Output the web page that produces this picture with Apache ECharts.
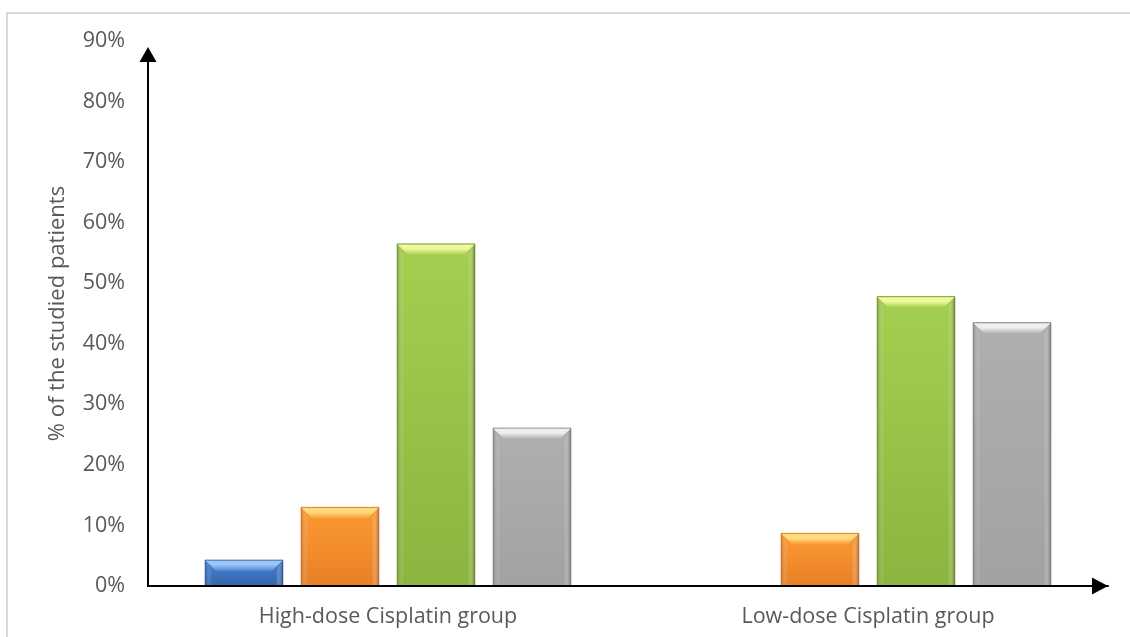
<!DOCTYPE html>
<html>
<head>
<meta charset="utf-8">
<title>Cisplatin dose groups</title>
<script src="https://cdn.jsdelivr.net/npm/echarts/dist/echarts.min.js"></script>
<style>
  html, body { margin: 0; padding: 0; background: #ffffff; }
  #chart { width: 1130px; height: 637px; }
</style>
</head>
<body>
<div id="chart"></div>
<script>
// Dose groups on the x axis
const categories = ['High-dose Cisplatin group', 'Low-dose Cisplatin group'];

// Share of patients (%) per group, one array per coloured bar
const seriesBlue   = [4.3, 0];
const seriesOrange = [13.0, 8.7];
const seriesGreen  = [56.5, 47.8];
const seriesGray   = [26.1, 43.5];

// Value axis range
const yMin = 0;
const yMax = 90;
const yStep = 10;

const FONT = '"Open Sans", "Liberation Sans", sans-serif';
const TEXT = '#595959';
const GRID_LEFT = 148;

// Bevelled-bar colour sets: face top/bottom, highlight, edge
const palettes = [
  { face1: '#4584d2', face2: '#3465aa', hi: '#9cc6f4', edge: '#24508c' },
  { face1: '#fd9a33', face2: '#e88026', hi: '#ffdb80', edge: '#b8641a' },
  { face1: '#a5cf50', face2: '#8db43f', hi: '#eef89c', edge: '#5f7f26' },
  { face1: '#afafaf', face2: '#a2a2a2', hi: '#efefef', edge: '#727272' }
];

function lin(x0, y0, x1, y1, stops) {
  return new echarts.graphic.LinearGradient(x0, y0, x1, y1,
    stops.map(function (s) { return { offset: s[0], color: s[1] }; }));
}

// Draws one bevelled bar in its slot within the category band
function bevelBar(slot) {
  const pal = palettes[slot];
  return function (params, api) {
    const v = api.value(1);
    if (!(v > 0)) return null;
    const band = api.size([1, 0])[0];
    const w = band * 0.1625;
    const step = band * 0.2;
    const top = api.coord([api.value(0), v]);
    const base = api.coord([api.value(0), 0]);
    const cx = top[0] + (slot - 1.5) * step;
    const x = cx - w / 2;
    const y = top[1];
    const h = base[1] - top[1];
    const b = Math.min(11, h / 2, w / 2);
    const s = 7;
    return {
      type: 'group',
      children: [
        {
          type: 'rect',
          shape: { x: x, y: y, width: w, height: h },
          style: {
            fill: lin(0, 0, 0, 1, [[0, pal.face1], [1, pal.face2]]),
            shadowBlur: 7,
            shadowColor: 'rgba(0,0,0,0.35)',
            shadowOffsetX: 3,
            shadowOffsetY: 1
          }
        },
        {
          type: 'polygon',
          shape: { points: [[x, y], [x + s, y + b], [x + s, y + h], [x, y + h]] },
          style: { fill: lin(0, 0, 1, 0, [[0, pal.edge], [1, 'rgba(255,255,255,0)']]), opacity: 0.55 }
        },
        {
          type: 'polygon',
          shape: { points: [[x + w, y], [x + w - s, y + b], [x + w - s, y + h], [x + w, y + h]] },
          style: { fill: lin(0, 0, 1, 0, [[0, 'rgba(255,255,255,0)'], [1, pal.edge]]), opacity: 0.9 }
        },
        {
          type: 'polygon',
          shape: { points: [[x, y], [x + w, y], [x + w - b, y + b], [x + b, y + b]] },
          style: { fill: lin(0, 0, 0, 1, [[0, pal.face1], [0.12, pal.hi], [0.45, pal.hi], [1, pal.face1]]) }
        },
        {
          type: 'rect',
          shape: { x: x, y: y, width: w, height: h },
          style: { fill: 'none', stroke: pal.edge, lineWidth: 1, opacity: 0.5 }
        }
      ]
    };
  };
}

function toData(values) {
  return values.map(function (v, i) { return [i, v]; });
}

const chart = echarts.init(document.getElementById('chart'), null, { renderer: 'canvas' });

const valueSets = [seriesBlue, seriesOrange, seriesGreen, seriesGray];
const seriesNames = ['Series 1', 'Series 2', 'Series 3', 'Series 4'];

chart.setOption({
  backgroundColor: '#ffffff',
  animation: false,
  grid: { left: GRID_LEFT, right: 22, top: 41, bottom: 51, containLabel: false },
  xAxis: {
    type: 'category',
    data: categories,
    boundaryGap: true,
    axisTick: { show: false },
    axisLine: {
      show: true,
      lineStyle: { color: '#000000', width: 2 },
      symbol: ['none', 'triangle'],
      symbolSize: [17, 16],
      symbolOffset: [0, -8]
    },
    axisLabel: { color: TEXT, fontFamily: FONT, fontSize: 21.5, margin: 20 },
    z: 5
  },
  yAxis: {
    type: 'value',
    min: yMin,
    max: yMax,
    interval: yStep,
    name: '% of the studied patients',
    nameLocation: 'middle',
    nameGap: 79,
    nameTextStyle: { color: TEXT, fontFamily: FONT, fontSize: 22 },
    axisLine: { show: false },
    axisTick: { show: false },
    splitLine: { show: false },
    axisLabel: { color: TEXT, fontFamily: FONT, fontSize: 21.5, margin: 23, formatter: '{value}%' }
  },
  series: valueSets.map(function (vals, i) {
    return {
      type: 'custom',
      name: seriesNames[i],
      renderItem: bevelBar(i),
      encode: { x: 0, y: 1 },
      data: toData(vals),
      z: 2
    };
  })
});

// Outer frame and the arrowed vertical axis line
const yBase = chart.convertToPixel({ yAxisIndex: 0 }, yMin);
const yTip = chart.convertToPixel({ yAxisIndex: 0 }, 89);
chart.setOption({
  graphic: [
    {
      type: 'rect',
      shape: { x: 7, y: 13, width: 1140, height: 700 },
      style: { fill: 'none', stroke: '#d9d9d9', lineWidth: 2 },
      z: 0
    },
    {
      type: 'line',
      shape: { x1: GRID_LEFT, y1: yBase + 1, x2: GRID_LEFT, y2: yTip + 10 },
      style: { stroke: '#000000', lineWidth: 2 },
      z: 10
    },
    {
      type: 'polygon',
      shape: { points: [[GRID_LEFT, yTip], [GRID_LEFT - 8.5, yTip + 15], [GRID_LEFT + 8.5, yTip + 15]] },
      style: { fill: '#000000' },
      z: 10
    }
  ]
});
</script>
</body>
</html>
